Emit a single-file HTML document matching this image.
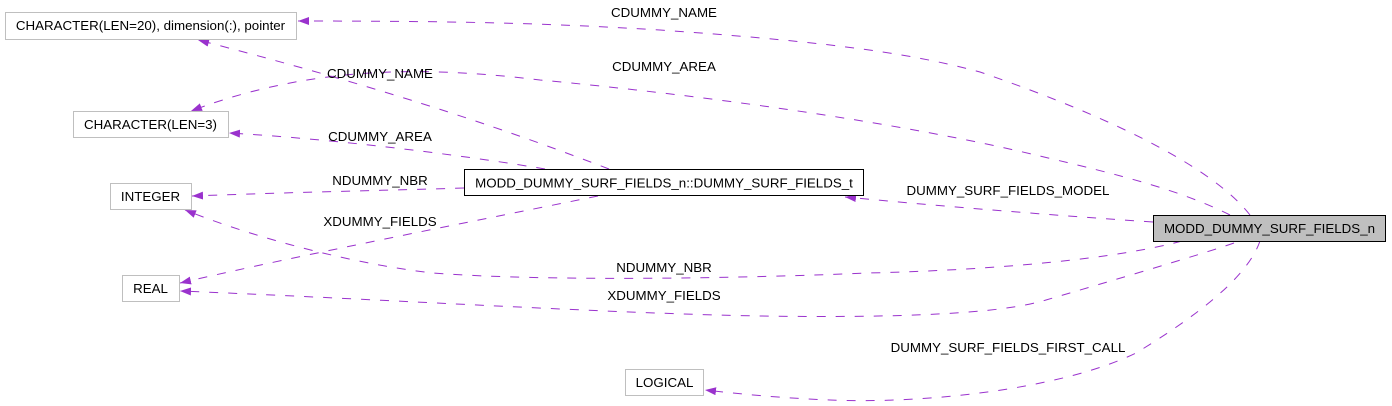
<!DOCTYPE html>
<html>
<head>
<meta charset="utf-8">
<style>
  html, body { margin: 0; padding: 0; background: #ffffff; }
  body { width: 1392px; height: 406px; overflow: hidden; }
  svg { display: block; }
  text { font-family: "Liberation Sans", Arial, sans-serif; font-size: 13.33px; fill: #000; }
</style>
</head>
<body>
<svg width="1392" height="406" viewBox="0 0 1392 406" xmlns="http://www.w3.org/2000/svg">
  <defs>
    <marker id="a" markerUnits="userSpaceOnUse" markerWidth="12" markerHeight="10" refX="11" refY="4" orient="auto">
      <path d="M0,0 L11,4 L0,8 z" fill="#9a32cd"/>
    </marker>
  </defs>

  <g fill="none" stroke="#9a32cd" stroke-width="1" stroke-dasharray="9,10" marker-end="url(#a)">
    <!-- CDUMMY_NAME top: main -> CHARACTER(LEN=20) -->
    <path d="M1250,215 C1215,170 1120,120 980,72 C900,50 800,40 660,30 C560,24 480,21 298,21"/>
    <!-- CDUMMY_AREA top: main -> CHARACTER(LEN=3) -->
    <path d="M1230,215 C1180,190 1120,175 1044,157 C900,122 700,95 540,80 C440,68 320,62 191,111"/>
    <!-- CDUMMY_NAME: mid -> CHARACTER(LEN=20) -->
    <path d="M609,169 C520,135 400,92 198,40"/>
    <!-- CDUMMY_AREA: mid -> CHARACTER(LEN=3) -->
    <path d="M545,169 C480,158 350,140 229,133"/>
    <!-- NDUMMY_NBR: mid -> INTEGER -->
    <path d="M464,188 C400,190 300,192 192,196"/>
    <!-- XDUMMY_FIELDS: mid -> REAL -->
    <path d="M598,196 C500,216 300,255 180,283"/>
    <!-- DUMMY_SURF_FIELDS_MODEL: main -> mid -->
    <path d="M1153,222 C1050,215 950,207 845,197"/>
    <!-- NDUMMY_NBR lower: main -> INTEGER -->
    <path d="M1182,241 C1120,258 1000,270 868,273 C750,278 550,282 433,273 C360,265 260,240 185,210"/>
    <!-- XDUMMY_FIELDS lower: main -> REAL -->
    <path d="M1234,243 C1200,255 1080,290 1046,300 C1000,314 900,318 760,316 C600,313 400,300 180,291"/>
    <!-- DUMMY_SURF_FIELDS_FIRST_CALL: main -> LOGICAL -->
    <path d="M1260,241 C1250,270 1215,305 1136,353 C1060,390 920,404 830,400 C780,398 740,394 705,390"/>
  </g>

  <!-- Nodes -->
  <rect x="5.5" y="12.5" width="291" height="27" fill="#fff" stroke="#bfbfbf"/>
  <text x="150.5" y="30" text-anchor="middle">CHARACTER(LEN=20), dimension(:), pointer</text>

  <rect x="73.5" y="111.5" width="155" height="26" fill="#fff" stroke="#bfbfbf"/>
  <text x="150.5" y="129" text-anchor="middle">CHARACTER(LEN=3)</text>

  <rect x="110.5" y="183.5" width="81" height="26" fill="#fff" stroke="#bfbfbf"/>
  <text x="150.5" y="201" text-anchor="middle">INTEGER</text>

  <rect x="122.5" y="275.5" width="57" height="26" fill="#fff" stroke="#bfbfbf"/>
  <text x="150.5" y="293" text-anchor="middle">REAL</text>

  <rect x="625.5" y="369.5" width="78" height="26" fill="#fff" stroke="#bfbfbf"/>
  <text x="664.5" y="387" text-anchor="middle">LOGICAL</text>

  <rect x="464.5" y="169.5" width="399" height="26" fill="#fff" stroke="#000"/>
  <text x="664" y="187.5" text-anchor="middle">MODD_DUMMY_SURF_FIELDS_n::DUMMY_SURF_FIELDS_t</text>

  <rect x="1153.5" y="215.5" width="232" height="26" fill="#bfbfbf" stroke="#000"/>
  <text x="1269.5" y="233" text-anchor="middle">MODD_DUMMY_SURF_FIELDS_n</text>

  <!-- Edge labels -->
  <text x="664" y="17" text-anchor="middle">CDUMMY_NAME</text>
  <text x="664" y="71" text-anchor="middle">CDUMMY_AREA</text>
  <text x="380" y="78" text-anchor="middle">CDUMMY_NAME</text>
  <text x="380" y="141" text-anchor="middle">CDUMMY_AREA</text>
  <text x="380" y="185" text-anchor="middle">NDUMMY_NBR</text>
  <text x="380" y="226" text-anchor="middle">XDUMMY_FIELDS</text>
  <text x="1008" y="195" text-anchor="middle">DUMMY_SURF_FIELDS_MODEL</text>
  <text x="664" y="272" text-anchor="middle">NDUMMY_NBR</text>
  <text x="664" y="300" text-anchor="middle">XDUMMY_FIELDS</text>
  <text x="1008" y="352" text-anchor="middle">DUMMY_SURF_FIELDS_FIRST_CALL</text>
</svg>
</body>
</html>
